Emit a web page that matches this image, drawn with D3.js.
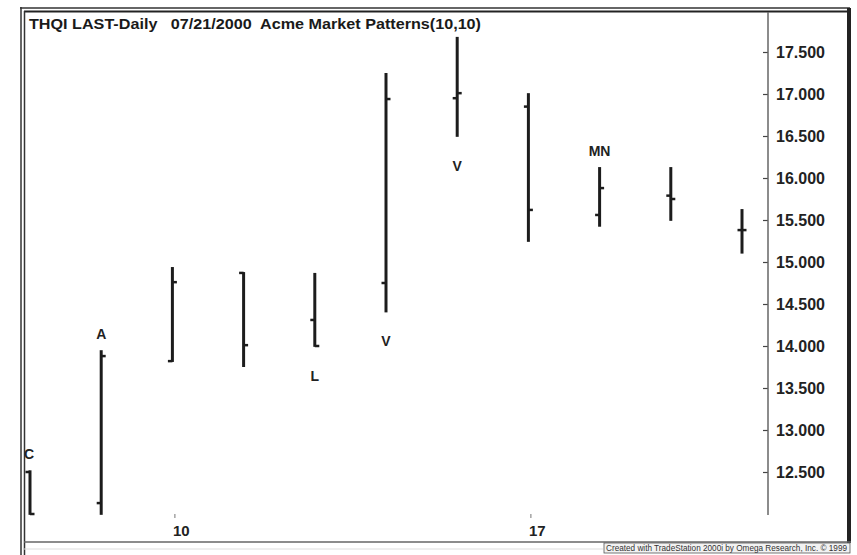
<!DOCTYPE html>
<html>
<head>
<meta charset="utf-8">
<script src="https://cdn.jsdelivr.net/npm/d3@7"></script>
<style>
  html, body { margin: 0; padding: 0; background: #ffffff; }
  svg { display: block; }
</style>
</head>
<body>
<script>
// ---- data ----
const dates  = ["2000-07-06","2000-07-07","2000-07-10","2000-07-11","2000-07-12","2000-07-13","2000-07-14","2000-07-17","2000-07-18","2000-07-19","2000-07-20"];
const opens  = [12.50, 12.13, 13.82, 14.87, 14.31, 14.75, 16.95, 16.85, 15.56, 15.79, 15.38];
const highs  = [12.52, 13.95, 14.94, 14.88, 14.87, 17.25, 17.68, 17.01, 16.13, 16.13, 15.63];
const lows   = [11.99, 11.99, 13.81, 13.75, 13.99, 14.40, 16.49, 15.24, 15.42, 15.49, 15.10];
const closes = [12.00, 13.88, 14.76, 14.01, 14.00, 16.94, 17.01, 15.62, 15.88, 15.75, 15.38];
const patternLabels = ["C", "A", "", "", "L", "V", "V", "", "MN", "", ""];
const patternSide   = ["above", "above", "", "", "below", "below", "below", "", "above", "", ""];
const yTickValues = [12.5, 13, 13.5, 14, 14.5, 15, 15.5, 16, 16.5, 17, 17.5];
const xTickDates  = ["2000-07-10", "2000-07-17"];
const xTickLabels = ["10", "17"];
const titleText = "THQI LAST-Daily   07/21/2000  Acme Market Patterns(10,10)";
const creditText = "Created with TradeStation 2000i by Omega Research, Inc. \u00A9 1999";

// ---- setup ----
const W = 857, H = 555;
const svg = d3.select("body").append("svg").attr("width", W).attr("height", H);
svg.append("rect").attr("width", W).attr("height", H).attr("fill", "#ffffff");

const x = d3.scalePoint().domain(dates).range([30, 742]);
const y = d3.scaleLinear().domain([12, 17.5]).range([514, 52]);

const ink = "#1c1c1c";

// ---- frame ----
const frame = svg.append("g");
frame.append("line").attr("x1", 20).attr("x2", 850).attr("y1", 8).attr("y2", 8).attr("stroke", "#333").attr("stroke-width", 1.5);
frame.append("line").attr("x1", 24).attr("x2", 850).attr("y1", 11.5).attr("y2", 11.5).attr("stroke", "#222").attr("stroke-width", 2);
frame.append("line").attr("x1", 21).attr("x2", 21).attr("y1", 7).attr("y2", 555).attr("stroke", "#333").attr("stroke-width", 1.5);
frame.append("line").attr("x1", 24.5).attr("x2", 24.5).attr("y1", 11).attr("y2", 555).attr("stroke", "#333").attr("stroke-width", 1.5);
frame.append("line").attr("x1", 849).attr("x2", 849).attr("y1", 8).attr("y2", 543).attr("stroke", "#222").attr("stroke-width", 4);
frame.append("line").attr("x1", 24).attr("x2", 851).attr("y1", 542).attr("y2", 542).attr("stroke", "#666").attr("stroke-width", 1.5);
frame.append("line").attr("x1", 24).attr("x2", 603).attr("y1", 549).attr("y2", 549).attr("stroke", "#ddd").attr("stroke-width", 1);

// ---- y axis (right) ----
const yAxis = d3.axisRight(y).tickValues(yTickValues).tickFormat(d3.format(".3f")).tickSizeInner(-5).tickSizeOuter(0).tickPadding(8);
const gy = svg.append("g").attr("transform", "translate(768,0)").call(yAxis);
gy.select(".domain").remove();
gy.append("line").attr("x1", 0).attr("x2", 0).attr("y1", 12).attr("y2", 515).attr("stroke", "#666").attr("stroke-width", 1.5);
gy.selectAll(".tick line").attr("stroke", "#444").attr("stroke-width", 1.2);
gy.selectAll(".tick text")
  .attr("fill", "#222")
  .attr("font-family", "Liberation Sans, Arial, sans-serif")
  .attr("font-weight", "bold")
  .attr("font-size", "16px")
  .attr("dy", "0.36em");

// ---- x axis ----
const xAxis = d3.axisBottom(x).tickValues(xTickDates).tickFormat((d, i) => xTickLabels[i]).tickSizeInner(4).tickSizeOuter(0).tickPadding(7);
const gx = svg.append("g").attr("transform", "translate(0,514)").call(xAxis);
gx.select(".domain").remove();
gx.selectAll(".tick line").attr("stroke", "#777").attr("stroke-width", 1).attr("transform", "translate(2,0)");
gx.selectAll(".tick text")
  .attr("fill", "#222")
  .attr("text-anchor", "start")
  .attr("font-family", "Liberation Sans, Arial, sans-serif")
  .attr("font-weight", "bold")
  .attr("font-size", "15px")
  .attr("dy", "0.71em");

// ---- bars ----
const bars = svg.append("g").attr("stroke", ink).attr("stroke-linecap", "butt");
dates.forEach((d, i) => {
  const cx = x(d);
  bars.append("line").attr("x1", cx).attr("x2", cx).attr("y1", y(highs[i])).attr("y2", y(lows[i])).attr("stroke-width", 3);
  bars.append("line").attr("x1", cx - 4.5).attr("x2", cx).attr("y1", y(opens[i])).attr("y2", y(opens[i])).attr("stroke-width", 2.5);
  bars.append("line").attr("x1", cx).attr("x2", cx + 4.5).attr("y1", y(closes[i])).attr("y2", y(closes[i])).attr("stroke-width", 2.5);
});

// ---- pattern labels ----
const lbl = svg.append("g")
  .attr("font-family", "Liberation Sans, Arial, sans-serif")
  .attr("font-weight", "bold")
  .attr("font-size", "14px")
  .attr("fill", "#222")
  .attr("text-anchor", "middle");
dates.forEach((d, i) => {
  if (!patternLabels[i]) return;
  const yy = patternSide[i] === "above" ? y(highs[i]) - 11 : y(lows[i]) + 34;
  const xx = patternLabels[i] === "C" ? x(d) - 1 : x(d);
  lbl.append("text").attr("x", xx).attr("y", yy).text(patternLabels[i]);
});

// ---- title ----
svg.append("text")
  .attr("x", 29).attr("y", 29)
  .attr("font-family", "Liberation Sans, Arial, sans-serif")
  .attr("font-weight", "bold")
  .attr("font-size", "15px")
  .attr("fill", "#1a1a1a")
  .attr("textLength", 452)
  .attr("lengthAdjust", "spacingAndGlyphs")
  .style("white-space", "pre")
  .text(titleText);

// ---- credit bar ----
const cr = svg.append("g");
cr.append("rect").attr("x", 604).attr("y", 543).attr("width", 246).attr("height", 10).attr("fill", "#f2f2f2").attr("stroke", "#555").attr("stroke-width", 0.8);
cr.append("text")
  .attr("x", 606).attr("y", 551)
  .attr("font-family", "Liberation Sans Narrow, Liberation Sans, Arial, sans-serif")
  .attr("font-size", "8.5px")
  .attr("fill", "#333")
  .attr("textLength", 241)
  .attr("lengthAdjust", "spacingAndGlyphs")
  .text(creditText);
</script>
</body>
</html>
